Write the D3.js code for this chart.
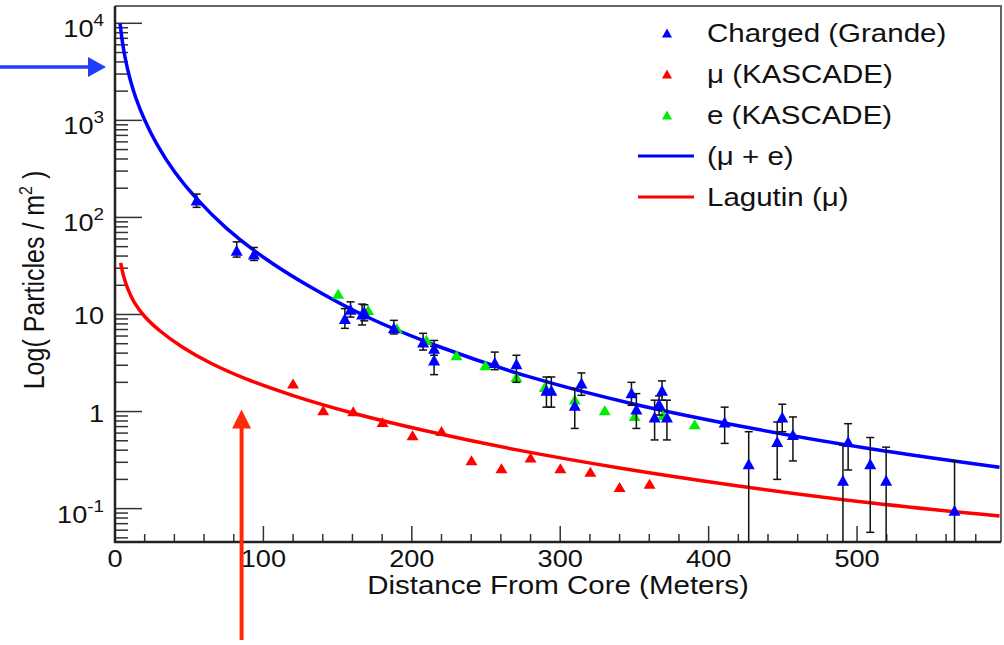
<!DOCTYPE html>
<html>
<head>
<meta charset="utf-8">
<script src="https://cdn.jsdelivr.net/npm/d3@7"></script>
<style>
  html, body { margin: 0; padding: 0; background: #fff; }
  text { font-family: "Liberation Sans", Arial, Helvetica, sans-serif; fill: #111; }
</style>
</head>
<body>
<div id="chart"></div>
<script>
// Charged (Grande): distance, density, err low, err high
const chargedGrande = [
    [55, 151, 127, 174], [82, 46, 39, 56], [93.6, 42, 36, 49],
    [154.9, 9.1, 7.2, 11.5], [158.7, 11.3, 9.4, 13.5], [166.5, 10.1, 7.8, 12.8],
    [168, 10.6, 8.6, 12.6], [187.9, 7.3, 6.3, 8.7], [207.6, 5.2, 4.3, 6.4],
    [215, 4.5, 3.8, 5.4], [215, 3.4, 2.4, 4.7], [255.9, 3.2, 2.7, 4.1],
    [270.5, 3.1, 2.0, 3.8], [290.7, 1.66, 1.11, 2.27], [294, 1.66, 1.11, 2.27],
    [309.8, 1.16, 0.67, 1.73], [314.3, 1.97, 1.47, 2.5], [348, 1.56, 1.16, 2.0],
    [351.3, 1.06, 0.67, 1.53], [363.6, 0.88, 0.51, 1.31], [366.6, 1.2, 0.92, 1.45],
    [368.6, 1.66, 1.31, 2.07], [371.9, 0.88, 0.51, 1.31], [410.8, 0.78, 0.47, 1.11],
    [427, 0.29, 0.01, 0.62], [446.2, 0.49, 0.20, 0.78], [449.6, 0.88, 0.62, 1.19],
    [456.8, 0.58, 0.31, 0.88], [490.5, 0.196, 0.01, 0.45], [494, 0.49, 0.25, 0.75],
    [508.9, 0.29, 0.057, 0.54], [519.6, 0.196, 0.01, 0.43], [565.7, 0.096, 0.01, 0.31]
];

// mu (KASCADE)
const muKascade = [
    [120, 1.95], [140.3, 1.03], [160.5, 1.01], [180.3, 0.78], [200.5, 0.57],
    [220, 0.63], [240.2, 0.315], [260.4, 0.26], [280, 0.336], [300.1, 0.26],
    [320.3, 0.24], [340, 0.167], [360.2, 0.18]
];

// e (KASCADE)
const eKascade = [
    [150.4, 16.4], [170.6, 11.1], [190, 7.2], [209.9, 5.5], [230.1, 3.8],
    [249.6, 3.0], [270.5, 2.27], [289.6, 1.79], [309.8, 1.33], [330, 1.03],
    [350.2, 0.90], [369.2, 0.92], [390.6, 0.74]
];

// (mu + e) fit
const muPlusE = [
    [3.4, 10000], [5, 6410], [7, 4285], [10, 2716], [14, 1710], [20, 1009],
    [28, 577], [40, 297], [55, 156], [75, 77.6], [100, 38.9], [130, 19.9],
    [170, 9.42], [220, 4.57], [280, 2.26], [350, 1.19], [430, 0.668],
    [510, 0.412], [596, 0.267]
];

// Lagutin (mu)
const lagutinMu = [
    [3.8, 34], [6, 24.2], [9, 17.8], [13, 13.3], [20, 9.53], [30, 6.84],
    [45, 4.66], [65, 3.13], [90, 2.12], [120, 1.46], [160, 0.966], [210, 0.63],
    [270, 0.405], [340, 0.262], [420, 0.171], [510, 0.114], [596, 0.084]
];

const xTicks = [0, 100, 200, 300, 400, 500];
const yTickExp = [-1, 0, 1, 2, 3, 4];
const legendItems = [
    { label: "Charged (Grande)", type: "tri", color: "#0000ff" },
    { label: "\u03bc (KASCADE)", type: "tri", color: "#ff0000" },
    { label: "e (KASCADE)", type: "tri", color: "#00ee00" },
    { label: "(\u03bc + e)", type: "line", color: "#0000ff" },
    { label: "Lagutin (\u03bc)", type: "line", color: "#ff0000" }
];

const width = 1004, height = 645;
const frame = { left: 115, right: 1001, top: 6, bottom: 542 };
const sx = 1.18; // text looks horizontally stretched in the original

const svg = d3.select("#chart").append("svg")
    .attr("width", width).attr("height", height);

const x = d3.scaleLinear().domain([0, 597]).range([frame.left, frame.right]);
const y = d3.scaleLog().domain([0.0453, 15070]).range([frame.bottom, frame.top]).clamp(true);

svg.append("clipPath").attr("id", "plot")
    .append("rect")
    .attr("x", frame.left).attr("y", frame.top)
    .attr("width", frame.right - frame.left).attr("height", frame.bottom - frame.top);

function sText(g, px, py, size, anchor) {
    return g.append("text")
        .attr("transform", `translate(${px},${py}) scale(${sx},1)`)
        .attr("font-size", size)
        .attr("text-anchor", anchor);
}

// frame (top / right)
svg.append("path")
    .attr("d", `M${frame.left},${frame.top}H${frame.right}V${frame.bottom}`)
    .attr("fill", "none").attr("stroke", "#666").attr("stroke-width", 2);

// x ticks
const xMinor = d3.range(0, 597, 20);
svg.append("g").selectAll("line").data(xMinor).join("line")
    .attr("x1", d => x(d)).attr("x2", d => x(d))
    .attr("y1", frame.bottom)
    .attr("y2", d => frame.bottom - (d % 100 === 0 ? 16 : 8))
    .attr("stroke", "#333").attr("stroke-width", 1.5);

xTicks.forEach(t => {
    sText(svg, x(t), 567, 23, "middle").text(t);
});

// y ticks
const yMinor = [];
for (let e = -2; e <= 4; e++) {
    for (let m = 1; m <= 9; m++) {
        const v = m * Math.pow(10, e);
        if (v >= 0.0453 && v <= 15070) yMinor.push({ v: v, major: m === 1 });
    }
}
svg.append("g").selectAll("line").data(yMinor).join("line")
    .attr("x1", frame.left)
    .attr("x2", d => frame.left + (d.major ? 27 : 13))
    .attr("y1", d => y(d.v)).attr("y2", d => y(d.v))
    .attr("stroke", "#333").attr("stroke-width", 1.5);

yTickExp.forEach(e => {
    const ty = y(Math.pow(10, e));
    if (e === 0 || e === 1) {
        sText(svg, 104, ty + 10, 23, "end").text(e === 0 ? "1" : "10");
    } else {
        const t = sText(svg, 104, ty + 14, 23, "end");
        t.append("tspan").text("10");
        t.append("tspan").attr("dy", -11).attr("font-size", 16).text(e);
    }
});

// axis lines
svg.append("path")
    .attr("d", `M${frame.left},${frame.top}V${frame.bottom}H${frame.right}`)
    .attr("fill", "none").attr("stroke", "#222").attr("stroke-width", 2.5);

// axis titles
sText(svg, (frame.left + frame.right) / 2, 594, 25, "middle")
    .text("Distance From Core (Meters)");

const yt = svg.append("text")
    .attr("transform", `translate(44,280) scale(${sx},1) rotate(-90)`)
    .attr("font-size", 25)
    .attr("text-anchor", "middle");
yt.append("tspan").text("Log( Particles / m");
yt.append("tspan").attr("dy", -10).attr("font-size", 16).text("2");
yt.append("tspan").attr("dy", 10).text(" )");

// curves
const line = d3.line()
    .x(d => x(d[0])).y(d => y(d[1]))
    .curve(d3.curveCatmullRom.alpha(0.5));

const plot = svg.append("g").attr("clip-path", "url(#plot)");

plot.append("path").datum(lagutinMu)
    .attr("d", line).attr("fill", "none")
    .attr("stroke", "#ff0000").attr("stroke-width", 3.5);

plot.append("path").datum(muPlusE)
    .attr("d", line).attr("fill", "none")
    .attr("stroke", "#0000ff").attr("stroke-width", 3.5);

// triangle marker
function tri(w, h) {
    return `M0,${-h / 2}L${w / 2},${h / 2}L${-w / 2},${h / 2}Z`;
}

plot.selectAll(".green").data(eKascade).join("path")
    .attr("transform", d => `translate(${x(d[0])},${y(d[1])})`)
    .attr("d", tri(12, 10)).attr("fill", "#00ee00");

plot.selectAll(".red").data(muKascade).join("path")
    .attr("transform", d => `translate(${x(d[0])},${y(d[1])})`)
    .attr("d", tri(12, 10)).attr("fill", "#ff0000");

// error bars
const eb = plot.append("g").attr("stroke", "#111").attr("stroke-width", 1.5);
chargedGrande.forEach(d => {
    const cx = x(d[0]);
    eb.append("line").attr("x1", cx).attr("x2", cx)
        .attr("y1", y(d[2])).attr("y2", y(d[3]));
    eb.append("line").attr("x1", cx - 4).attr("x2", cx + 4)
        .attr("y1", y(d[3])).attr("y2", y(d[3]));
    if (d[2] > 0.0453) {
        eb.append("line").attr("x1", cx - 4).attr("x2", cx + 4)
            .attr("y1", y(d[2])).attr("y2", y(d[2]));
    }
});

plot.selectAll(".blue").data(chargedGrande).join("path")
    .attr("transform", d => `translate(${x(d[0])},${y(d[1])})`)
    .attr("d", tri(12, 11)).attr("fill", "#0000ff");

// legend
const legend = svg.append("g");
legendItems.forEach((it, i) => {
    const ry = 33 + i * 41;
    if (it.type === "tri") {
        legend.append("path")
            .attr("transform", `translate(667,${ry})`)
            .attr("d", tri(10, 9)).attr("fill", it.color);
    } else {
        legend.append("line")
            .attr("x1", 638).attr("x2", 694).attr("y1", ry).attr("y2", ry)
            .attr("stroke", it.color).attr("stroke-width", 3);
    }
    sText(legend, 707, ry + 9, 25, "start").text(it.label);
});

// annotation arrows
const blueArrowY = y(3550);
const ba = svg.append("g").attr("fill", "#1f3cff").attr("stroke", "#1f3cff");
ba.append("line").attr("x1", 0).attr("x2", 90).attr("y1", blueArrowY).attr("y2", blueArrowY)
    .attr("stroke-width", 3.5);
ba.append("path")
    .attr("d", `M106,${blueArrowY}L88,${blueArrowY - 10}L88,${blueArrowY + 10}Z`)
    .attr("stroke", "none");

const redArrowX = x(85.3);
const redTip = y(1.05);
const ra = svg.append("g").attr("fill", "#ff2a0a");
ra.append("line").attr("x1", redArrowX).attr("x2", redArrowX)
    .attr("y1", redTip + 15).attr("y2", 640)
    .attr("stroke", "#ff2a0a").attr("stroke-width", 4);
ra.append("path")
    .attr("d", `M${redArrowX},${redTip}L${redArrowX - 9.5},${redTip + 19}L${redArrowX + 9.5},${redTip + 19}Z`);
</script>
</body>
</html>
